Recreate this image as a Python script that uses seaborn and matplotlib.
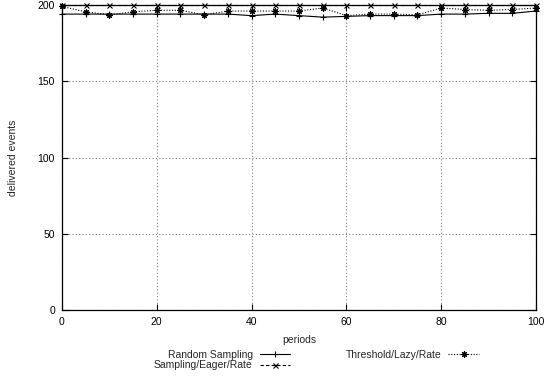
import matplotlib
matplotlib.use("Agg")
import matplotlib.pyplot as plt
import pandas as pd
import seaborn as sns

# Delivered events per period for the three dissemination strategies
periods = list(range(0, 101, 5))
random_sampling = [194, 194, 194, 194, 194, 194, 194, 194, 193, 194, 193,
                   192, 192.5, 193, 193, 193, 194, 194, 194.5, 194.5, 196]
sampling_eager_rate = [200] * 21
threshold_lazy_rate = [199, 195.5, 193.5, 195.5, 196.5, 196.5, 193.5, 196, 196, 196, 196,
                       198, 193, 194, 194, 193.5, 198, 197, 196.5, 197, 198]

series_names = ["Random Sampling", "Sampling/Eager/Rate", "Threshold/Lazy/Rate"]
x_ticks = [0, 20, 40, 60, 80, 100]
y_ticks = [0, 50, 100, 150, 200]

df = pd.DataFrame({
    "periods": periods * 3,
    "events": random_sampling + sampling_eager_rate + threshold_lazy_rate,
    "series": [n for n in series_names for _ in periods],
})

sns.set_theme(style="ticks")
plt.rcParams["font.family"] = ["Liberation Sans", "DejaVu Sans"]
plt.rcParams["font.size"] = 7.5

fig = plt.figure(figsize=(5.48, 3.8), dpi=100)
ax = fig.add_axes([0.113, 0.184, 0.865, 0.803])

marker_map = {"Random Sampling": "+", "Sampling/Eager/Rate": "x",
              "Threshold/Lazy/Rate": (8, 2, 0)}
dash_map = {"Random Sampling": "", "Sampling/Eager/Rate": (3, 2),
            "Threshold/Lazy/Rate": (1, 1.5)}
size_map = {"Random Sampling": 4.5, "Sampling/Eager/Rate": 3.6, "Threshold/Lazy/Rate": 4.5}

sns.lineplot(data=df, x="periods", y="events", hue="series", style="series",
             hue_order=series_names, style_order=series_names,
             palette=["black"] * 3, markers=marker_map, dashes=dash_map,
             linewidth=0.8, legend=False, ax=ax)

lines = ax.lines[:3]
for line, name in zip(lines, series_names):
    line.set_markersize(size_map[name])
    line.set_markeredgewidth(0.8)
    line.set_markeredgecolor("black")
    line.set_markerfacecolor("black")
    line.set_clip_on(False)

ax.set_xlim(0, 100)
ax.set_ylim(0, 200)
ax.set_xticks(x_ticks)
ax.set_yticks(y_ticks)
ax.grid(True, color="#808080", linestyle=(0, (1, 2)), linewidth=0.8)
ax.set_axisbelow(True)
ax.tick_params(direction="in", top=True, right=True, length=4, width=0.8,
               labelsize=7.5, colors="black", pad=5)
for s in ax.spines.values():
    s.set_color("black")
    s.set_linewidth(0.9)

ax.set_xlabel("periods", fontsize=7.5, labelpad=6)
ax.set_ylabel("delivered events", fontsize=7.5, labelpad=14)

fig.legend(lines, series_names, loc="upper right", bbox_to_anchor=(0.883, 0.093),
           ncol=2, frameon=False, markerfirst=False, numpoints=1,
           handlelength=2.9, handletextpad=0.7, columnspacing=5.3,
           labelspacing=0.05, fontsize=7.5, borderpad=0)

fig.savefig("out.png", dpi=100)
